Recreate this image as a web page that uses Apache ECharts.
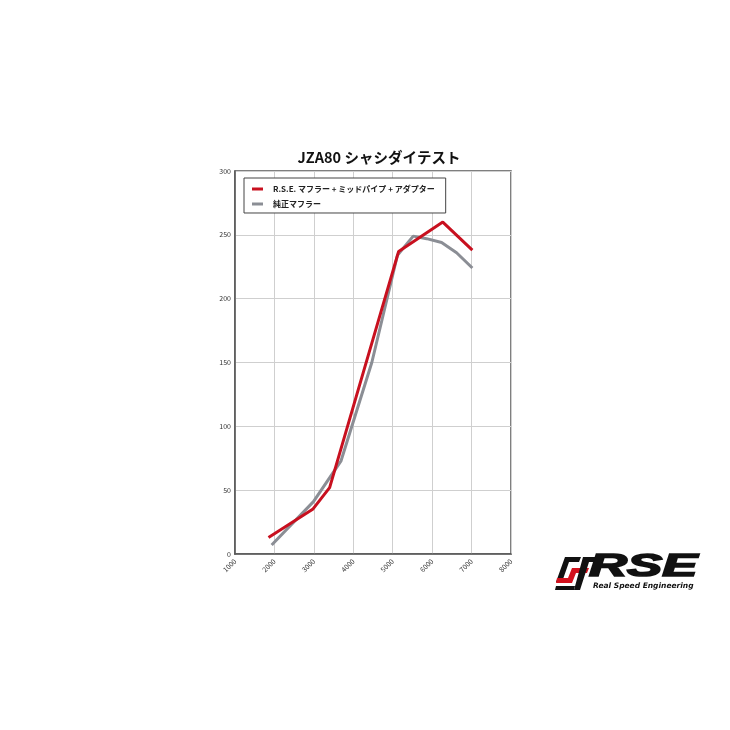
<!DOCTYPE html>
<html><head><meta charset="utf-8">
<script src="https://cdn.jsdelivr.net/npm/echarts@6/dist/echarts.min.js"></script>
<style>html,body{margin:0;padding:0;background:#fff}#c{width:730px;height:730px}</style>
</head><body><div id="c"></div>
<script>
const titleText = 'JZA80 シャシダイテスト';
const seriesNames = ['R.S.E. マフラー + ミッドパイプ + アダプター', '純正マフラー'];
const rpmRSE = [1850, 2970, 3400, 5150, 6270, 7020];
const valRSE = [13, 35, 52, 237, 260, 238];
const rpmStock = [1930, 2990, 3690, 4470, 5120, 5520, 5860, 6240, 6620, 7020];
const valStock = [7, 41, 73, 150, 234, 249, 247, 244, 236, 224];
const xTicks = [1000, 2000, 3000, 4000, 5000, 6000, 7000, 8000];
const yTicks = [0, 50, 100, 150, 200, 250, 300];

const pair = (xs, ys) => xs.map((x, i) => [x, ys[i]]);
const font = '"Noto Sans CJK JP", "Noto Sans", sans-serif';
const chart = echarts.init(document.getElementById('c'));
chart.setOption({
  animation: false,
  backgroundColor: '#fff',
  title: {
    text: titleText, left: 374, top: 145, textAlign: 'center',
    textStyle: { fontFamily: font, fontWeight: 'bold', fontSize: 14.5, color: '#111' }
  },
  grid: { left: 235, right: 219, top: 171, bottom: 176, show: true, borderColor: '#555', borderWidth: 1.5, backgroundColor: 'transparent' },
  legend: {
    orient: 'vertical', left: 244, top: 178,
    backgroundColor: '#fff', borderColor: '#444', borderWidth: 1,
    padding: [7, 11, 5, 8], itemGap: 7,
    itemWidth: 11, itemHeight: 3, icon: 'rect',
    textStyle: { fontFamily: font, fontSize: 8, fontWeight: 'bold', color: '#222', padding: [0, 0, 0, 5] },
    data: seriesNames
  },
  xAxis: {
    type: 'value', min: xTicks[0], max: xTicks[xTicks.length - 1], interval: 1000,
    axisLine: { show: true, lineStyle: { color: '#555', width: 1.5 } },
    axisTick: { show: false },
    splitLine: { show: true, lineStyle: { color: '#cfcfcf', width: 1 } },
    axisLabel: { rotate: 45, fontSize: 7, color: '#333', margin: 6, fontFamily: font, formatter: v => String(v) }
  },
  yAxis: {
    type: 'value', min: yTicks[0], max: yTicks[yTicks.length - 1], interval: 50,
    axisLine: { show: true, lineStyle: { color: '#555', width: 1.5 } },
    axisTick: { show: false },
    splitLine: { show: true, lineStyle: { color: '#cfcfcf', width: 1 } },
    axisLabel: { fontSize: 7, color: '#333', margin: 4, fontFamily: font, formatter: v => String(v) }
  },
  series: [
    { name: seriesNames[0], type: 'line', data: pair(rpmRSE, valRSE), symbol: 'none', z: 4,
      lineStyle: { color: '#c8101f', width: 3 }, itemStyle: { color: '#c8101f' } },
    { name: seriesNames[1], type: 'line', data: pair(rpmStock, valStock), symbol: 'none', z: 3,
      lineStyle: { color: '#8b8e95', width: 3 }, itemStyle: { color: '#8b8e95' } }
  ],
  graphic: [
    { type: 'polygon', shape: { points: [[565,557],[581,557],[579,562],[569,562],[562,582],[556,582]] }, style: { fill: '#111' } },
    { type: 'polygon', shape: { points: [[557,578],[568,578],[572,568],[589,568],[587,573],[576,573],[572,583],[556,583]] }, style: { fill: '#d3111d' } },
    { type: 'polygon', shape: { points: [[583,557],[599,557],[597,562],[589,562],[580,590],[574,590]] }, style: { fill: '#111' } },
    { type: 'polygon', shape: { points: [[556,586],[575,586],[574,590],[555,590]] }, style: { fill: '#111' } },
    { type: 'text', x: 589, y: 552, scaleX: 1.7, style: { text: 'RSE', font: 'italic 900 31px "Liberation Sans", Arial, sans-serif', fill: '#111', stroke: '#111', lineWidth: 1.6 } },
    { type: 'text', left: 593, top: 582, style: { text: 'Real Speed Engineering', font: 'italic bold 7.5px "DejaVu Sans", sans-serif', fill: '#111' } }
  ]
});
</script></body></html>
